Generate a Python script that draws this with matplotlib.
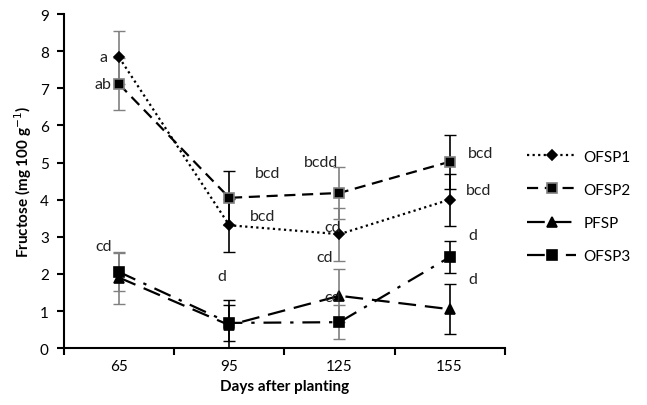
import numpy as np
import matplotlib.pyplot as plt

plt.rcParams['font.family'] = ['Lato', 'DejaVu Sans']

days = ["65", "95", "125", "155"]
ofsp1 = [7.83, 3.31, 3.07, 4.00]
ofsp2 = [7.11, 4.05, 4.18, 5.02]
pfsp = [1.90, 0.62, 1.41, 1.05]
ofsp3 = [2.05, 0.68, 0.70, 2.45]

ofsp1_err = [0.71, 0.71, 0.71, 0.70]
ofsp2_err = [0.70, 0.72, 0.71, 0.72]
pfsp_err = [0.70, 0.68, 0.71, 0.68]
ofsp3_err = [0.50, 0.48, 0.45, 0.43]

# significance letters: x, y, text, alignment
sig_x = [-0.11, -0.07, -0.07, 1.23, 1.19, 0.97,
         1.99, 2.01, 1.94, 2.01, 3.17, 3.15, 3.17, 3.17]
sig_y = [7.83, 7.11, 2.75, 4.72, 3.55, 1.95,
         5.02, 3.26, 2.45, 1.37, 5.25, 4.25, 3.05, 1.85]
sig_txt = ["a", "ab", "cd", "bcd", "bcd", "d",
           "bcdd", "cd", "cd", "cd", "bcd", "bcd", "d", "d"]
sig_ha = ['right', 'right', 'right', 'left', 'left', 'right',
          'right', 'right', 'right', 'right', 'left', 'left', 'left', 'left']

x = np.arange(len(days))
ecolors = ['#808080', 'black', '#808080', 'black']

fig = plt.figure(figsize=(6.47, 4.06), dpi=100)
ax = fig.add_axes([0.099, 0.140, 0.681, 0.823])

series = [
    ("OFSP1", ofsp1, ofsp1_err, (0, (1, 1.5)), 'D', 5, 'black'),
    ("OFSP2", ofsp2, ofsp2_err, (0, (5, 3)), 's', 7, '#808080'),
    ("PFSP", pfsp, pfsp_err, (0, (8, 4)), '^', 7, 'black'),
    ("OFSP3", ofsp3, ofsp3_err, (0, (8, 4, 1.5, 4)), 's', 7, 'black'),
]

for name, vals, err, ls, mk, ms, mec in series:
    for i in range(len(days)):
        ax.errorbar(x[i], vals[i], yerr=err[i], fmt='none', ecolor=ecolors[i],
                    elinewidth=1.2, capsize=4, capthick=1.0, zorder=2)
    ax.plot(x, vals, linestyle=ls, color='black', lw=1.6, marker=mk,
            markersize=ms, markerfacecolor='black', markeredgecolor=mec,
            markeredgewidth=1.2, label=name, zorder=3)

for lx, ly, txt, ha in zip(sig_x, sig_y, sig_txt, sig_ha):
    ax.text(lx, ly, txt, ha=ha, va='center', fontsize=11.5, color='#222222', zorder=4)

ax.set_xlim(-0.5, 3.5)
ax.set_ylim(0, 9)
ax.set_yticks(range(0, 10))
ax.set_xticks(x)
ax.set_xticklabels(days)
ax.set_xticks(np.arange(-0.5, 4.0, 1.0), minor=True)
ax.tick_params(axis='x', which='major', length=0, pad=8, labelsize=11)
ax.tick_params(axis='x', which='minor', length=5, width=1.5, direction='out')
ax.tick_params(axis='y', length=5, width=1.5, labelsize=11, pad=6)
for s in ['top', 'right']:
    ax.spines[s].set_visible(False)
ax.spines['left'].set_linewidth(1.5)
ax.spines['bottom'].set_linewidth(1.5)

ax.set_xlabel("Days after planting", fontweight='bold', fontsize=11, labelpad=4)
ax.set_ylabel("Fructose (mg 100 g$^{-1}$)", fontweight='bold', fontsize=11, labelpad=4)

ax.legend(loc='upper left', bbox_to_anchor=(1.02, 0.635), frameon=False, fontsize=11,
          handlelength=3.2, labelspacing=1.25, handletextpad=0.5)

fig.savefig('out.png', dpi=100)
